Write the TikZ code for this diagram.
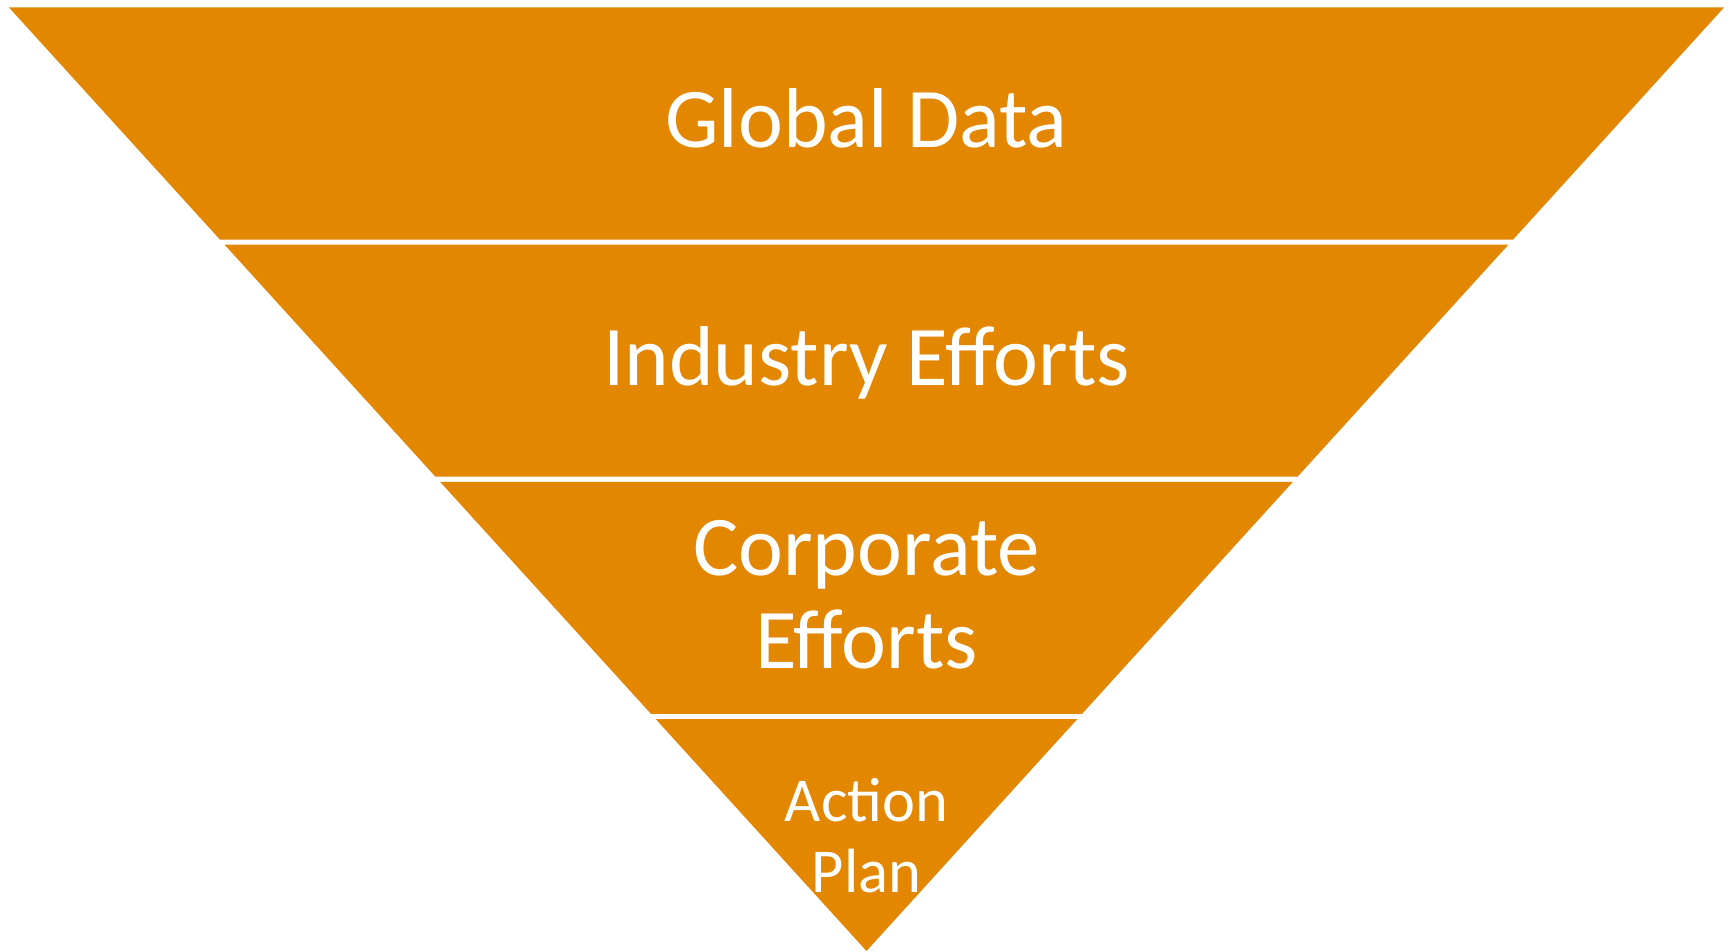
\documentclass[tikz,border=0pt]{standalone}
\usepackage{fontspec}
\setmainfont{Carlito}
\usetikzlibrary{calc}
\definecolor{funnelorange}{RGB}{227,134,0}
\tikzset{
  band/.style={
    % The filling:
    fill=funnelorange,
    % The border:
    draw=none},
  bandtext/.style={
    % The text:
    text=white,
    align=center,
    inner sep=0pt,
    font=\fontsize{85}{93.4}\selectfont},
  tiptext/.style={
    bandtext,
    font=\fontsize{62.5}{71}\selectfont}
}

\begin{document}
\begin{tikzpicture}[x=1pt,y=-1pt]
  \useasboundingbox (0,0) rectangle (1731,952);
  \coordinate (tl)   at (9,7.5);
  \coordinate (tr)   at (1724,7.5);
  \coordinate (apex) at (866.5,951);

  % four slices of the funnel
  \foreach \top/\bot in {7.5/239.5,244.7/476.7,481.9/713.9,719.1/951}{
    \path[band] ($(tl)!{(\top-7.5)/943.5}!(apex)$) -- ($(tr)!{(\top-7.5)/943.5}!(apex)$)
             -- ($(tr)!{(\bot-7.5)/943.5}!(apex)$) -- ($(tl)!{(\bot-7.5)/943.5}!(apex)$) -- cycle;
  }

  \node (global)    [bandtext,anchor=base] at (866.5,148)   {Global Data};
  \node (industry)  [bandtext,anchor=base] at (866.5,385)   {Industry Efforts};
  \node (corporate) [bandtext]             at (866.5,595)   {Corporate\\Efforts};
  \node (action)    [tiptext]              at (866.5,835.5) {Action\\Plan};
\end{tikzpicture}
\end{document}
